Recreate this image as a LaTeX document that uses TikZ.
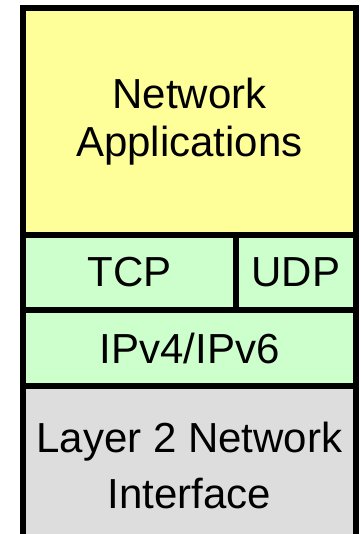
\documentclass[tikz,border=0pt]{standalone}
\usepackage{fontspec}
\setmainfont{Liberation Sans}
\usetikzlibrary{positioning}
\definecolor{Appcol}{HTML}{FFFF99}
\definecolor{Transcol}{HTML}{CCFFCC}
\definecolor{Linkcol}{HTML}{DDDDDD}
\tikzset{
  layer box/.style = {
    shape = rectangle,
    draw = black,
    line width = 6pt,
    outer sep = 0pt,
    inner sep = 0pt,
    align = center,
    font = \fontsize{42}{48}\selectfont,
    fill = #1,
  },
}
\begin{document}
\begin{tikzpicture}[x=1pt,y=-1pt]
    \useasboundingbox (0,0) rectangle (360,534);
    \clip (0,0) rectangle (360,534);

    % application layer
    \node [layer box=Appcol, anchor=north west, minimum width=333pt, minimum height=226.5pt] (app) at (23,8) {Network\\Applications};

    % transport layer
    \node [layer box=Transcol, below right=0pt and 0pt of app.south west, minimum width=213pt, minimum height=75.5pt] (tcp) {TCP};
    \node [layer box=Transcol, right=0pt of tcp, minimum width=120pt, minimum height=75.5pt] (udp) {UDP};

    % network layer
    \node [layer box=Transcol, below right=0pt and 0pt of tcp.south west, minimum width=333pt, minimum height=76pt] (ip) {IPv4/IPv6};

    % link layer
    \node [layer box=Linkcol, below=0pt of ip, minimum width=333pt, minimum height=159pt, font=\fontsize{42}{56}\selectfont] (l2) {Layer 2 Network\\Interface};

\end{tikzpicture}
\end{document}
